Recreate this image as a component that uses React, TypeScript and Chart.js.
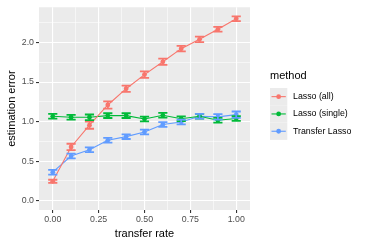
import React, { useEffect, useRef } from "react";
import { Chart, registerables } from "chart.js";

Chart.register(...registerables);

const transferRates = [0, 0.1, 0.2, 0.3, 0.4, 0.5, 0.6, 0.7, 0.8, 0.9, 1.0];
const lassoAll = [0.245, 0.68, 0.955, 1.21, 1.416, 1.594, 1.756, 1.922, 2.04, 2.167, 2.30];
const lassoAllErr = [0.02, 0.04, 0.045, 0.045, 0.04, 0.04, 0.04, 0.035, 0.035, 0.03, 0.03];
const lassoSingle = [1.067, 1.055, 1.055, 1.076, 1.076, 1.034, 1.08, 1.036, 1.067, 1.017, 1.04];
const lassoSingleErr = [0.03, 0.03, 0.035, 0.03, 0.03, 0.03, 0.03, 0.03, 0.03, 0.03, 0.03];
const transferLasso = [0.361, 0.565, 0.644, 0.764, 0.81, 0.868, 0.964, 0.996, 1.067, 1.06, 1.088];
const transferLassoErr = [0.03, 0.03, 0.03, 0.03, 0.03, 0.03, 0.03, 0.03, 0.03, 0.035, 0.04];
const seriesNames = ["Lasso (all)", "Lasso (single)", "Transfer Lasso"];
const seriesColors = ["#F8766D", "#00BA38", "#619CFF"];
const xTicks = [0, 0.25, 0.5, 0.75, 1.0];
const yTicks = [0, 0.5, 1.0, 1.5, 2.0];
const legendTitle = "method";
const xTitle = "transfer rate";
const yTitle = "estimation error";

const FONT = "'Liberation Sans', Arial, sans-serif";

const errorBarPlugin = {
  id: "errorBars",
  afterDatasetsDraw(chart: any) {
    const ctx = chart.ctx;
    const xs = chart.scales.x;
    const ys = chart.scales.y;
    const errs = [lassoAllErr, lassoSingleErr, transferLassoErr];
    const halfW = 0.025;
    chart.data.datasets.forEach((ds: any, i: number) => {
      ctx.save();
      ctx.strokeStyle = seriesColors[i];
      ctx.lineWidth = 1.8;
      ds.data.forEach((p: any, j: number) => {
        const e = errs[i][j];
        const x = xs.getPixelForValue(p.x);
        const x0 = xs.getPixelForValue(p.x - halfW);
        const x1 = xs.getPixelForValue(p.x + halfW);
        const yTop = ys.getPixelForValue(p.y + e);
        const yBot = ys.getPixelForValue(p.y - e);
        ctx.beginPath();
        ctx.moveTo(x, yTop);
        ctx.lineTo(x, yBot);
        ctx.moveTo(x0, yTop);
        ctx.lineTo(x1, yTop);
        ctx.moveTo(x0, yBot);
        ctx.lineTo(x1, yBot);
        ctx.stroke();
      });
      ctx.restore();
    });
  },
};

const bgPlugin = {
  id: "panelBg",
  beforeDraw(chart: any) {
    const { ctx, chartArea } = chart;
    ctx.save();
    ctx.fillStyle = "#EBEBEB";
    ctx.fillRect(chartArea.left, chartArea.top, chartArea.right - chartArea.left, chartArea.bottom - chartArea.top);
    ctx.restore();
  },
};

const legendPlugin = {
  id: "ggLegend",
  afterDraw(chart: any) {
    const ctx = chart.ctx;
    const left = chart.chartArea.right + 20;
    ctx.save();
    ctx.fillStyle = "#000000";
    ctx.font = `11px ${FONT}`;
    ctx.textBaseline = "middle";
    ctx.textAlign = "left";
    ctx.fillText(legendTitle, left, 76);
    const keyTop = 88;
    const keyH = 17.3;
    seriesNames.forEach((name, i) => {
      const y = keyTop + i * keyH;
      ctx.fillStyle = "#EBEBEB";
      ctx.fillRect(left, y, 17.3, keyH);
      ctx.strokeStyle = seriesColors[i];
      ctx.lineWidth = 1.1;
      ctx.beginPath();
      ctx.moveTo(left + 1.5, y + keyH / 2);
      ctx.lineTo(left + 15.8, y + keyH / 2);
      ctx.stroke();
      ctx.fillStyle = seriesColors[i];
      ctx.beginPath();
      ctx.arc(left + keyH / 2, y + keyH / 2, 2.4, 0, Math.PI * 2);
      ctx.fill();
      ctx.fillStyle = "#000000";
      ctx.font = `8.8px ${FONT}`;
      ctx.fillText(name, left + 23, y + keyH / 2);
    });
    ctx.restore();
  },
};

export default function App() {
  const ref = useRef<HTMLCanvasElement | null>(null);
  useEffect(() => {
    if (!ref.current) return;
    const allY = [lassoAll, lassoSingle, transferLasso];
    const chart = new Chart(ref.current, {
      type: "line",
      data: {
        datasets: seriesNames.map((name, i) => ({
          label: name,
          data: transferRates.map((x, j) => ({ x, y: allY[i][j] })),
          borderColor: seriesColors[i],
          backgroundColor: seriesColors[i],
          borderWidth: 1.1,
          pointRadius: 2.4,
          pointHoverRadius: 2.4,
          pointBorderWidth: 0,
          tension: 0,
        })),
      },
      options: {
        animation: false,
        responsive: false,
        maintainAspectRatio: false,
        events: [],
        layout: { padding: { top: 5, right: 119, left: 0, bottom: 0 } },
        plugins: { legend: { display: false }, tooltip: { enabled: false } },
        scales: {
          x: {
            type: "linear",
            min: -0.075,
            max: 1.075,
            afterBuildTicks(scale: any) {
              const t: any[] = [];
              for (let v = 0; v <= 1.0001; v += 0.125) t.push({ value: Math.round(v * 1000) / 1000 });
              scale.ticks = t;
            },
            afterFit(scale: any) {
              scale.height = 35;
            },
            border: { display: false },
            grid: {
              color: "#FFFFFF",
              lineWidth: (c: any) => (xTicks.includes(c.tick?.value) ? 1.1 : 0.55),
              drawTicks: true,
              tickLength: 3,
              tickWidth: 1.1,
              tickColor: (c: any) => (xTicks.includes(c.tick?.value) ? "#333333" : "rgba(0,0,0,0)"),
            },
            ticks: {
              autoSkip: false,
              maxRotation: 0,
              padding: 1,
              color: "#4D4D4D",
              font: { family: FONT, size: 8.8 },
              callback: (v: any) => (xTicks.includes(v) ? Number(v).toFixed(2) : ""),
            },
            title: {
              display: true,
              text: xTitle,
              color: "#000000",
              font: { family: FONT, size: 11 },
              padding: { top: 0, bottom: 4 },
            },
          },
          y: {
            type: "linear",
            min: -0.117,
            max: 2.445,
            afterBuildTicks(scale: any) {
              const t: any[] = [];
              for (let v = 0; v <= 2.2501; v += 0.25) t.push({ value: Math.round(v * 1000) / 1000 });
              scale.ticks = t;
            },
            afterFit(scale: any) {
              scale.width = 39;
            },
            border: { display: false },
            grid: {
              color: "#FFFFFF",
              lineWidth: (c: any) => (yTicks.includes(c.tick?.value) ? 1.1 : 0.55),
              drawTicks: true,
              tickLength: 3,
              tickWidth: 1.1,
              tickColor: (c: any) => (yTicks.includes(c.tick?.value) ? "#333333" : "rgba(0,0,0,0)"),
            },
            ticks: {
              autoSkip: false,
              padding: 2,
              color: "#4D4D4D",
              font: { family: FONT, size: 8.8 },
              callback: (v: any) => (yTicks.includes(v) ? Number(v).toFixed(1) : ""),
            },
            title: {
              display: true,
              text: yTitle,
              color: "#000000",
              font: { family: FONT, size: 11 },
              padding: { top: 5, bottom: 0 },
            },
          },
        },
      },
      plugins: [bgPlugin, errorBarPlugin, legendPlugin],
    } as any);
    return () => chart.destroy();
  }, []);
  return (
    <div style={{ position: "absolute", left: 0, top: 0, width: 369, height: 245, background: "#FFFFFF" }}>
      <canvas ref={ref} width={369} height={245} style={{ width: 369, height: 245, display: "block" }} />
    </div>
  );
}
